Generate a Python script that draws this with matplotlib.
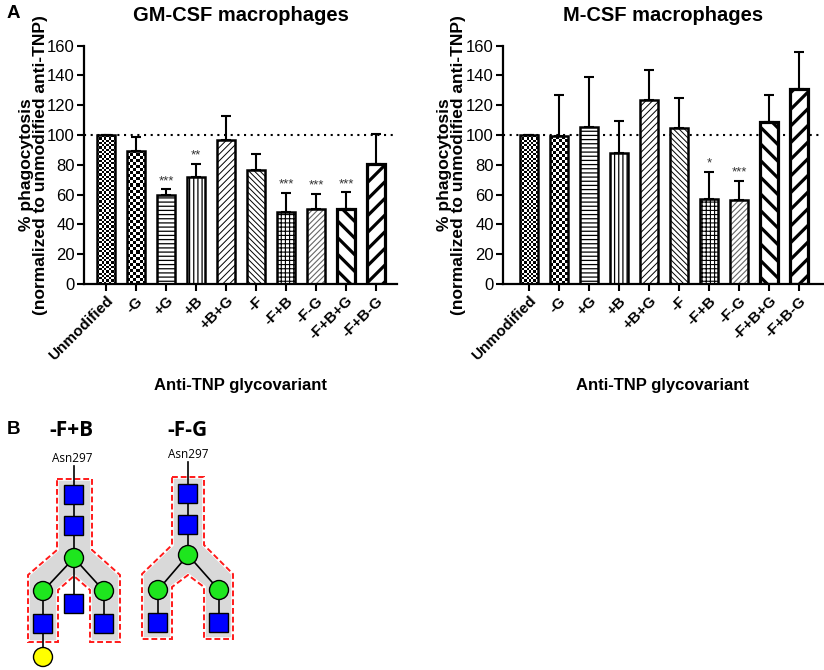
import numpy as np
import matplotlib
matplotlib.use("Agg")
import matplotlib.pyplot as plt
from matplotlib.patches import Polygon, Rectangle, Circle

plt.rcParams["font.family"] = ["Liberation Sans", "DejaVu Sans"]

# --- data --------------------------------------------------------------------
variants = ["Unmodified", "-G", "+G", "+B", "+B+G", "-F", "-F+B", "-F-G",
            "-F+B+G", "-F+B-G"]

gm_mean = [100, 89.5, 60.0, 71.6, 97.0, 76.3, 48.5, 50.3, 50.1, 80.3]
gm_sem = [0, 9.4, 3.5, 9.2, 15.5, 10.9, 12.8, 10.3, 11.6, 20.1]
gm_stars = ["", "", "***", "**", "", "", "***", "***", "***", ""]

m_mean = [100, 99.3, 105.4, 88.0, 123.4, 104.7, 57.3, 56.6, 108.8, 131.2]
m_sem = [0, 27.7, 33.6, 21.7, 20.6, 20.0, 18.2, 12.6, 17.9, 24.5]
m_stars = ["", "", "", "", "", "", "*", "***", "", ""]

yticks = [0, 20, 40, 60, 80, 100, 120, 140, 160]

# fill style per glycovariant: (kind, pattern, hatch lw, hatch colour, edge lw)
STYLES = [
    ("checker", 8, 0, "k", 1.8),
    ("checker", 6, 0, "k", 1.8),
    ("hatch", "----", 0.9, "k", 1.8),
    ("hatch", "||||", 0.9, "k", 1.8),
    ("hatch", "/////", 0.7, "k", 1.8),
    ("hatch", "\\" * 6, 0.7, "k", 1.8),
    ("hatch", "++++", 0.8, "k", 1.8),
    ("hatch", "//////", 0.8, "#666666", 1.8),
    ("hatch", "\\\\", 2.3, "k", 2.3),
    ("hatch", "//", 2.3, "k", 2.3),
]

W, H = 824, 670
fig = plt.figure(figsize=(W / 100, H / 100), dpi=100)
fig.patch.set_facecolor("white")


def px_axes(left, right, top, bottom):
    return fig.add_axes([left / W, 1 - bottom / H, (right - left) / W,
                         (bottom - top) / H])


def checker_fill(ax, bar, n_cols):
    x0, w, h = bar.get_x(), bar.get_width(), bar.get_height()
    p0 = ax.transData.transform((x0, 0))
    p1 = ax.transData.transform((x0 + w, h))
    cell = (p1[0] - p0[0]) / n_cols
    n_rows = max(1, int(round((p1[1] - p0[1]) / cell)))
    img = np.indices((n_rows, n_cols)).sum(axis=0) % 2
    im = ax.imshow(img, cmap="gray", extent=(x0, x0 + w, 0, h),
                   aspect="auto", interpolation="nearest", zorder=2)
    im.set_clip_path(bar)


def bar_panel(ax, means, sems, stars, title, xlim, ylab_x):
    ax.set_xlim(*xlim)
    ax.set_ylim(0, 160)
    ax.set_autoscale_on(False)
    x = np.arange(len(variants))

    ax.axhline(100, color="k", ls=(0, (1, 2.2)), lw=1.5, zorder=1)
    ax.errorbar(x, means, yerr=[np.zeros(len(sems)), sems], fmt="none",
                ecolor="k", elinewidth=1.5, capsize=3.8, capthick=1.5,
                zorder=2)

    for i, (xi, m) in enumerate(zip(x, means)):
        kind, pat, hlw, hcol, elw = STYLES[i]
        base = ax.bar(xi, m, width=0.6, color="white", lw=0, zorder=2)[0]
        if kind == "checker":
            checker_fill(ax, base, pat)
        else:
            hb = ax.bar(xi, m, width=0.6, color="none", edgecolor=hcol,
                        lw=0, hatch=pat, zorder=2.5)[0]
            if hasattr(hb, "set_hatch_linewidth"):
                hb.set_hatch_linewidth(hlw)
        ax.bar(xi, m, width=0.6, fill=False, edgecolor="k", lw=elw,
               zorder=3)

    for xi, m, s, st in zip(x, means, sems, stars):
        if st:
            ax.annotate(st, xy=(xi, m + s), xytext=(0, 1.5),
                        textcoords="offset points", ha="center", va="bottom",
                        fontsize=9.5, color="#333333")

    ax.set_yticks(yticks)
    ax.set_xticks(x)
    ax.set_xticklabels(variants, rotation=45, ha="right",
                       rotation_mode="anchor", fontsize=11,
                       fontweight="bold")
    ax.tick_params(axis="y", labelsize=12, width=1.5, length=5, pad=1.5)
    ax.tick_params(axis="x", width=1.5, length=5, pad=2)
    for s in ("top", "right"):
        ax.spines[s].set_visible(False)
    for s in ("left", "bottom"):
        ax.spines[s].set_linewidth(1.6)

    ax.set_ylabel("% phagocytosis\n(normalized to unmodified anti-TNP)",
                  fontsize=12.5, fontweight="bold", linespacing=0.95)
    ax.yaxis.set_label_coords(ylab_x, 0.5)
    ax.text(0.5, 1.125, title, transform=ax.transAxes, ha="center",
            va="center", fontsize=14.5, fontweight="bold")
    ax.text(0.5, -0.424, "Anti-TNP glycovariant", transform=ax.transAxes,
            ha="center", va="center", fontsize=12, fontweight="bold")


ax1 = px_axes(84, 397, 45.7, 284)
bar_panel(ax1, gm_mean, gm_sem, gm_stars, "GM-CSF macrophages",
          (-0.73, 9.7), -0.115)

ax2 = px_axes(503, 823, 45.7, 284)
bar_panel(ax2, m_mean, m_sem, m_stars, "M-CSF macrophages",
          (-0.87, 9.8), -0.115)

fig.text(7 / W, 1 - 14 / H, "A", fontsize=13.5, fontweight="bold",
         ha="left", va="center")

# --- panel B: glycan cartoons ------------------------------------------------
axb = fig.add_axes([0, 0, 1, 1], zorder=-1)
axb.set_xlim(0, W)
axb.set_ylim(H, 0)
axb.axis("off")

fpb_outline = [(57, 479), (92, 479), (92, 550), (120, 575), (120, 642),
               (90, 642), (90, 590), (74, 576), (58, 590), (58, 642),
               (28, 642), (28, 575), (57, 550)]
fpb_edges = [((74, 466), (74, 494)), ((74, 494), (74, 525)),
             ((74, 525), (74, 558)), ((74, 558), (43, 591)),
             ((74, 558), (104, 591)), ((74, 558), (74, 603)),
             ((43, 591), (43, 623)), ((43, 623), (43, 657)),
             ((104, 591), (104, 623))]
fpb_squares = [(74, 494), (74, 525), (74, 603), (43, 623), (104, 623)]
fpb_circles = [(74, 558), (43, 591), (104, 591)]
fpb_yellow = [(43, 657)]

fmg_outline = [(172, 477), (204, 477), (204, 545), (233, 574), (233, 639),
               (204, 639), (204, 587), (188, 575), (172, 587), (172, 639),
               (142, 639), (142, 574), (172, 545)]
fmg_edges = [((188, 462), (188, 493)), ((188, 493), (188, 524)),
             ((188, 524), (188, 555)), ((188, 555), (158, 590)),
             ((188, 555), (219, 590)), ((158, 590), (158, 622)),
             ((219, 590), (219, 622))]
fmg_squares = [(188, 493), (188, 524), (158, 622), (219, 622)]
fmg_circles = [(188, 555), (158, 590), (219, 590)]


def glycan(outline, edges, squares, circles, yellow):
    axb.add_patch(Polygon(outline, closed=True, facecolor="#d9d9d9",
                          edgecolor="white", lw=2.5, zorder=1))
    axb.add_patch(Polygon(outline, closed=True, fill=False,
                          edgecolor="#ff1a1a", lw=1.4, ls=(0, (3, 1.5)),
                          zorder=1.5))
    for (xa, ya), (xb, yb) in edges:
        axb.plot([xa, xb], [ya, yb], color="k", lw=1.2, zorder=2)
    for cx, cy in squares:
        axb.add_patch(Rectangle((cx - 9.5, cy - 9.5), 19, 19,
                                facecolor="#0000ff", edgecolor="k", lw=1,
                                zorder=3))
    for cx, cy in circles:
        axb.add_patch(Circle((cx, cy), 9.5, facecolor="#1ee61e",
                             edgecolor="k", lw=1, zorder=3))
    for cx, cy in yellow:
        axb.add_patch(Circle((cx, cy), 9.5, facecolor="#ffff00",
                             edgecolor="k", lw=1, zorder=3))


glycan(fpb_outline, fpb_edges, fpb_squares, fpb_circles, fpb_yellow)
glycan(fmg_outline, fmg_edges, fmg_squares, fmg_circles, [])

axb.text(7, 430, "B", fontsize=13.5, fontweight="bold", ha="left",
         va="center")
for tx, name, ay in [(71, "-F+B", 459), (187, "-F-G", 455)]:
    axb.text(tx, 431, name, fontsize=15, fontweight="bold", ha="center",
             va="center", family=["Open Sans", "DejaVu Sans"])
    axb.text(tx + 1, ay, "Asn297", fontsize=8.5, ha="center", va="center",
             family=["Open Sans", "DejaVu Sans"])

fig.savefig("out.png", dpi=100)
